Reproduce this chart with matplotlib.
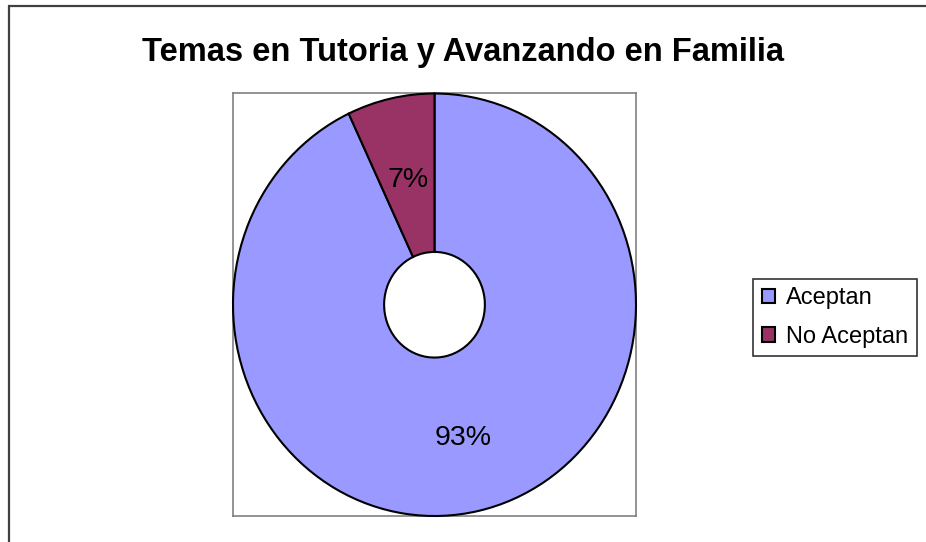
import matplotlib.pyplot as plt
import matplotlib.patches as patches

plt.rcParams['font.family'] = ['Liberation Sans', 'DejaVu Sans']

# data
labels = ['Aceptan', 'No Aceptan']
values = [93, 7]
colors = ['#9999FF', '#993366']
title = 'Temas en Tutoria y Avanzando en Familia'
label_dist = [0.645, 0.605]   # where each % label sits, as fraction of radius

fig = plt.figure(figsize=(9.26, 5.42), dpi=100)

# outer chart border (only left and top visible in the original)
border = patches.Rectangle((9/926, -0.05), 1.0, 1 - 6/542 + 0.05,
                           transform=fig.transFigure, fill=False,
                           edgecolor='#404040', lw=1.6, clip_on=False)
fig.patches.append(border)

# plot area box
left, right = 233/926, 636/926
bottom, top = 1 - 516/542, 1 - 93.5/542
ax = fig.add_axes([left, bottom, right - left, top - bottom])

wedges, texts, autotexts = ax.pie(
    values, colors=colors, startangle=90, counterclock=False,
    radius=1.0, autopct='%d%%', pctdistance=1.0,
    wedgeprops=dict(width=0.75, edgecolor='black', linewidth=1.5),
    textprops=dict(fontsize=20.5, color='black'))

# pull labels in to their own distance
for t, d in zip(autotexts, label_dist):
    x, y = t.get_position()
    t.set_position((x * d, y * d))

ax.set_aspect('auto')
ax.set_xlim(-1.0, 1.0)
ax.set_ylim(-1.0, 1.0)
ax.set_frame_on(True)
for s in ax.spines.values():
    s.set_visible(True)
    s.set_edgecolor('#808080')
    s.set_linewidth(1.2)
    s.set_zorder(0)
ax.set_xticks([])
ax.set_yticks([])

fig.text(0.5, 1 - 53/542, title, ha='center', va='center',
         fontsize=23.5, fontweight='bold')

leg = fig.legend(wedges, labels, loc='center',
                 bbox_to_anchor=(835/926, 1 - 317.5/542),
                 fontsize=17, frameon=True, fancybox=False,
                 edgecolor='black', handlelength=0.55, handleheight=0.55,
                 handletextpad=0.5, labelspacing=0.7, borderpad=0.35,
                 borderaxespad=0)
leg.get_frame().set_linewidth(1.2)

fig.savefig('out.png', dpi=100)
